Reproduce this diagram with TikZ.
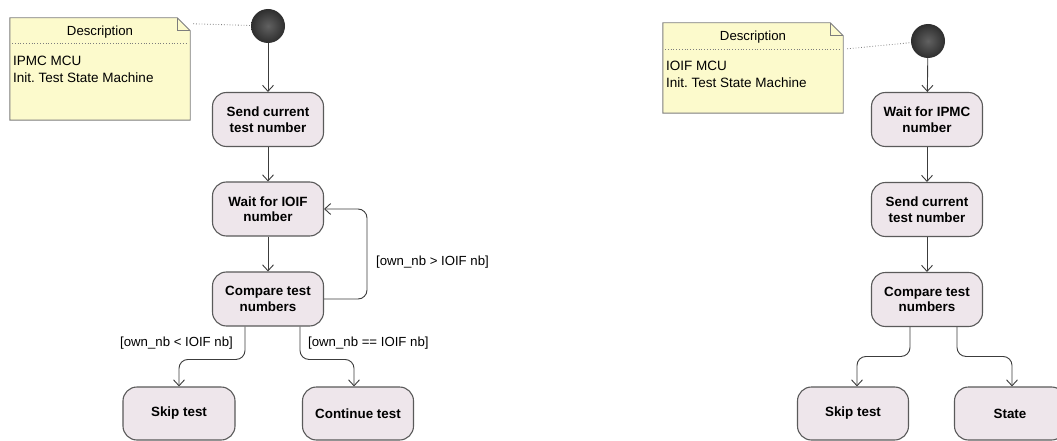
\documentclass[tikz,border=0pt]{standalone}
\usepackage{fontspec}
\setmainfont{Liberation Sans}
\frenchspacing
\usetikzlibrary{arrows.meta,calc,shadings}
\definecolor{actfill}{RGB}{238,230,235}
\definecolor{actdraw}{RGB}{90,90,90}
\definecolor{notefill}{RGB}{252,250,204}
\definecolor{notedraw}{RGB}{125,125,125}
\definecolor{wire}{RGB}{60,60,60}
\tikzset{
  action/.style={draw=actdraw, line width=1.1pt, fill=actfill, rounded corners=14pt,
    minimum width=111pt, minimum height=54pt, align=center, inner sep=2pt,
    font=\fontsize{13.4}{15.5}\selectfont\bfseries},
  initial/.style={circle, minimum size=34pt, inner sep=0pt, shading=radial,
    inner color=black!62, outer color=black!82},
  flow/.style={draw=wire, line width=0.9pt, -{Straight Barb[length=6pt,width=11pt]}},
  branch/.style={flow, rounded corners=9pt},
  guard/.style={font=\fontsize{13.2}{15}\selectfont, inner sep=0pt},
  notebox/.style={minimum width=180pt, inner sep=0pt},
  noteline/.style={draw=notedraw, line width=0.9pt, fill=notefill},
  notetext/.style={font=\fontsize{13.5}{17}\selectfont, align=left, inner sep=0pt, anchor=north west},
  anchorline/.style={draw=gray, line width=0.8pt, dotted},
}
\newcommand{\drawnote}[1]{%
  \path[noteline] (#1.north west) -- ([xshift=-13pt]#1.north east)
    -- ([yshift=-13pt]#1.north east) -- (#1.south east) -- (#1.south west) -- cycle;
  \draw[notedraw, line width=0.9pt] ([xshift=-13pt]#1.north east)
    -- ([xshift=-13pt,yshift=-13pt]#1.north east) -- ([yshift=-13pt]#1.north east);
}
\begin{document}
\begin{tikzpicture}[x=1pt,y=-1pt]
\useasboundingbox (0,0) rectangle (1057,441);
\clip (0,0) rectangle (1057,441);
\fill[white] (0,0) rectangle (1057,441);

% ---------- IPMC side ----------
\node[notebox, minimum height=102pt] (n1) at (100,69) {};
\drawnote{n1}
\node[guard] (n1title) at (100,32) {Description};
\draw[notedraw, line width=0.8pt, dotted] (12,43) -- (188,43);
\node[notetext] (n1body) at (13,56) {IPMC MCU\\Init. Test State Machine};

\node[initial] (i1) at (268,26) {};
\draw[anchorline] ([shift={(3pt,-6pt)}]n1.north east) -- (i1);

\node[action] (send1) at (268,119.5) {Send current\\test number};
\node[action] (wait1) at (268,209) {Wait for IOIF\\number};
\node[action] (cmp1) at (268,299) {Compare test\\numbers};
\node[action, minimum width=112pt, minimum height=53pt] (skip1) at (179,413.5) {Skip test};
\node[action, minimum height=53pt] (cont1) at (358,413.5) {Continue test};

\draw[flow] (i1) -- (send1);
\draw[flow] (send1) -- (wait1);
\draw[flow] (wait1) -- (cmp1);

\coordinate (loop1) at (367,255);
\draw[branch] (cmp1.east) -| (loop1) |- (wait1.east);
\node[guard, anchor=west] (g1) at (376,262) {[own\_nb > IOIF nb]};

\draw[branch] ([xshift=-23pt]cmp1.south) |- ($(skip1.north)+(0,-27)$) -- (skip1.north);
\draw[branch] ([xshift=32pt]cmp1.south) |- ($(cont1.north)+(-4,-27)$) -- ([xshift=-4pt]cont1.north);
\node[guard, anchor=west] (g2) at (120,343) {[own\_nb < IOIF nb]};
\node[guard, anchor=west] (g3) at (308,343) {[own\_nb == IOIF nb]};

% ---------- IOIF side ----------
\node[notebox, minimum height=90pt] (n2) at (753,68) {};
\drawnote{n2}
\node[guard] (n2title) at (753,37) {Description};
\draw[notedraw, line width=0.8pt, dotted] (665,49) -- (841,49);
\node[notetext] (n2body) at (666,61) {IOIF MCU\\Init. Test State Machine};

\node[initial] (i2) at (928,41) {};
\draw[anchorline] ([shift={(4pt,-26pt)}]n2.north east) -- (i2);

\node[action] (wait2) at (927,119.5) {Wait for IPMC\\number};
\node[action] (send2) at (927,209.5) {Send current\\test number};
\node[action] (cmp2) at (927,299.5) {Compare test\\numbers};
\node[action, minimum height=53pt] (skip2) at (853,413.5) {Skip test};
\node[action, minimum height=53pt] (state2) at (1010,413.5) {State};

\draw[flow] (i2) -- (wait2);
\draw[flow] (wait2) -- (send2);
\draw[flow] (send2) -- (cmp2);

\draw[branch] ([xshift=-17pt]cmp2.south) |- ($(skip2.north)+(4,-30)$) -- ([xshift=4pt]skip2.north);
\draw[branch] ([xshift=30pt]cmp2.south) |- ($(state2.north)+(2,-30)$) -- ([xshift=2pt]state2.north);
\end{tikzpicture}
\end{document}
